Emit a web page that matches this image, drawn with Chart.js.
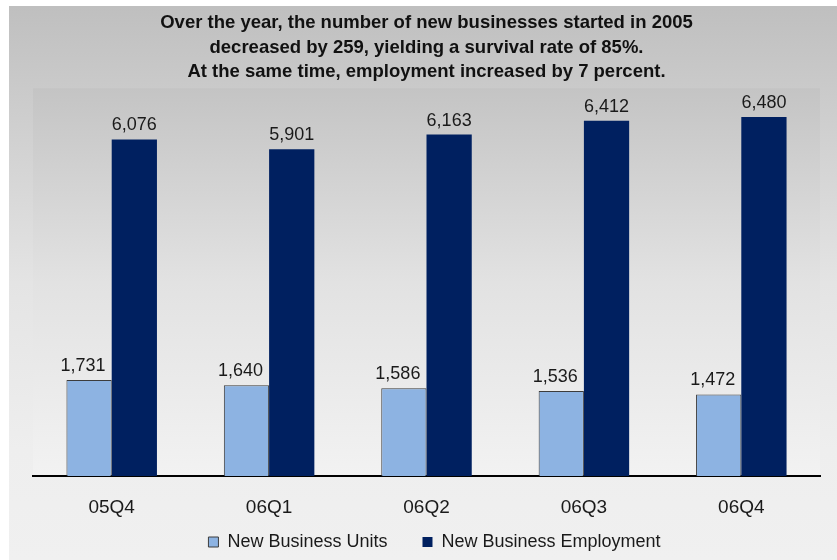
<!DOCTYPE html>
<html>
<head>
<meta charset="utf-8">
<script src="https://cdn.jsdelivr.net/npm/chart.js@4"></script>
<style>
  html, body { margin: 0; padding: 0; background: #fff; }
  canvas { display: block; }
</style>
</head>
<body>
<canvas id="chart" width="837" height="560"></canvas>
<script>
// values
var quarters = ["05Q4", "06Q1", "06Q2", "06Q3", "06Q4"];
var businessUnits = [1731, 1640, 1586, 1536, 1472];
var businessEmployment = [6076, 5901, 6163, 6412, 6480];
var titleLines = [
    "Over the year, the number of new businesses started in 2005",
    "decreased by 259, yielding a survival rate of 85%.",
    "At the same time, employment increased by 7 percent."
];

var fontFamily = "Arial, 'Liberation Sans', sans-serif";
var legendGap = 35;
// the light bar labels sit a little left of centre in the original
var labelNudge = [-6, 0];

// grey gradient panel behind everything
var backgroundPlugin = {
    id: "panelBackground",
    beforeDraw: function (chart) {
        var ctx = chart.ctx;
        var area = chart.chartArea;
        ctx.save();
        ctx.fillStyle = "#ffffff";
        ctx.fillRect(0, 0, chart.width, chart.height);

        var g = ctx.createLinearGradient(0, 6, 0, chart.height);
        g.addColorStop(0, "#bfbfbf");
        g.addColorStop(0.5, "#e4e4e4");
        g.addColorStop(0.8, "#eeeeee");
        g.addColorStop(1, "#f0f0f0");
        ctx.fillStyle = g;
        ctx.fillRect(9, 6, chart.width - 9, chart.height - 6);

        var g2 = ctx.createLinearGradient(0, area.top, 0, area.bottom);
        g2.addColorStop(0, "#c4c4c4");
        g2.addColorStop(0.5, "#e2e2e2");
        g2.addColorStop(1, "#f2f2f2");
        ctx.fillStyle = g2;
        ctx.fillRect(area.left, area.top, area.right - area.left, area.bottom - area.top);
        ctx.restore();
    }
};

// legend padding also sets the item gap, so pull the box up to compensate
var legendShiftPlugin = {
    id: "legendShift",
    afterLayout: function (chart) {
        var lg = chart.legend;
        if (lg) {
            lg.top -= legendGap - 13;
            lg.left += 8;
            lg.right += 8;
        }
    }
};

// value labels above each bar
var valueLabelPlugin = {
    id: "valueLabels",
    afterDatasetsDraw: function (chart) {
        var ctx = chart.ctx;
        ctx.save();
        ctx.font = "18px " + fontFamily;
        ctx.fillStyle = "#1a1a1a";
        ctx.textAlign = "center";
        ctx.textBaseline = "alphabetic";
        chart.data.datasets.forEach(function (ds, i) {
            var meta = chart.getDatasetMeta(i);
            meta.data.forEach(function (bar, j) {
                ctx.fillText(ds.data[j].toLocaleString("en-US"), bar.x + labelNudge[i], bar.y - 9);
            });
        });
        ctx.restore();
    }
};

new Chart(document.getElementById("chart"), {
    type: "bar",
    data: {
        labels: quarters,
        datasets: [
            {
                label: "New Business Units",
                data: businessUnits,
                backgroundColor: "#8db3e2",
                borderColor: "#3c3c3c",
                borderWidth: 1,
                categoryPercentage: 0.575,
                barPercentage: 1.0
            },
            {
                label: "New Business Employment",
                data: businessEmployment,
                backgroundColor: "#002060",
                borderColor: "#002060",
                borderWidth: 0,
                categoryPercentage: 0.575,
                barPercentage: 1.0
            }
        ]
    },
    options: {
        responsive: false,
        animation: false,
        layout: {
            padding: { left: 33, right: 17, top: 0, bottom: 0 }
        },
        scales: {
            x: {
                grid: { display: false, drawTicks: false },
                border: { display: true, color: "#000000", width: 2 },
                ticks: {
                    color: "#1a1a1a",
                    padding: 20,
                    font: { family: fontFamily, size: 19 }
                },
                afterFit: function (scale) {
                    scale.height = 44;
                }
            },
            y: {
                display: false,
                min: 0,
                max: 7000
            }
        },
        plugins: {
            title: {
                display: true,
                text: titleLines,
                color: "#111111",
                font: { family: fontFamily, size: 18.5, weight: "bold", lineHeight: 1.32 },
                padding: { top: 11, bottom: 4 }
            },
            legend: {
                position: "bottom",
                maxHeight: 40,
                labels: {
                    color: "#1a1a1a",
                    boxWidth: 10,
                    boxHeight: 10,
                    padding: legendGap,
                    font: { family: fontFamily, size: 18 }
                }
            },
            tooltip: { enabled: false }
        }
    },
    plugins: [backgroundPlugin, legendShiftPlugin, valueLabelPlugin]
});
</script>
</body>
</html>
